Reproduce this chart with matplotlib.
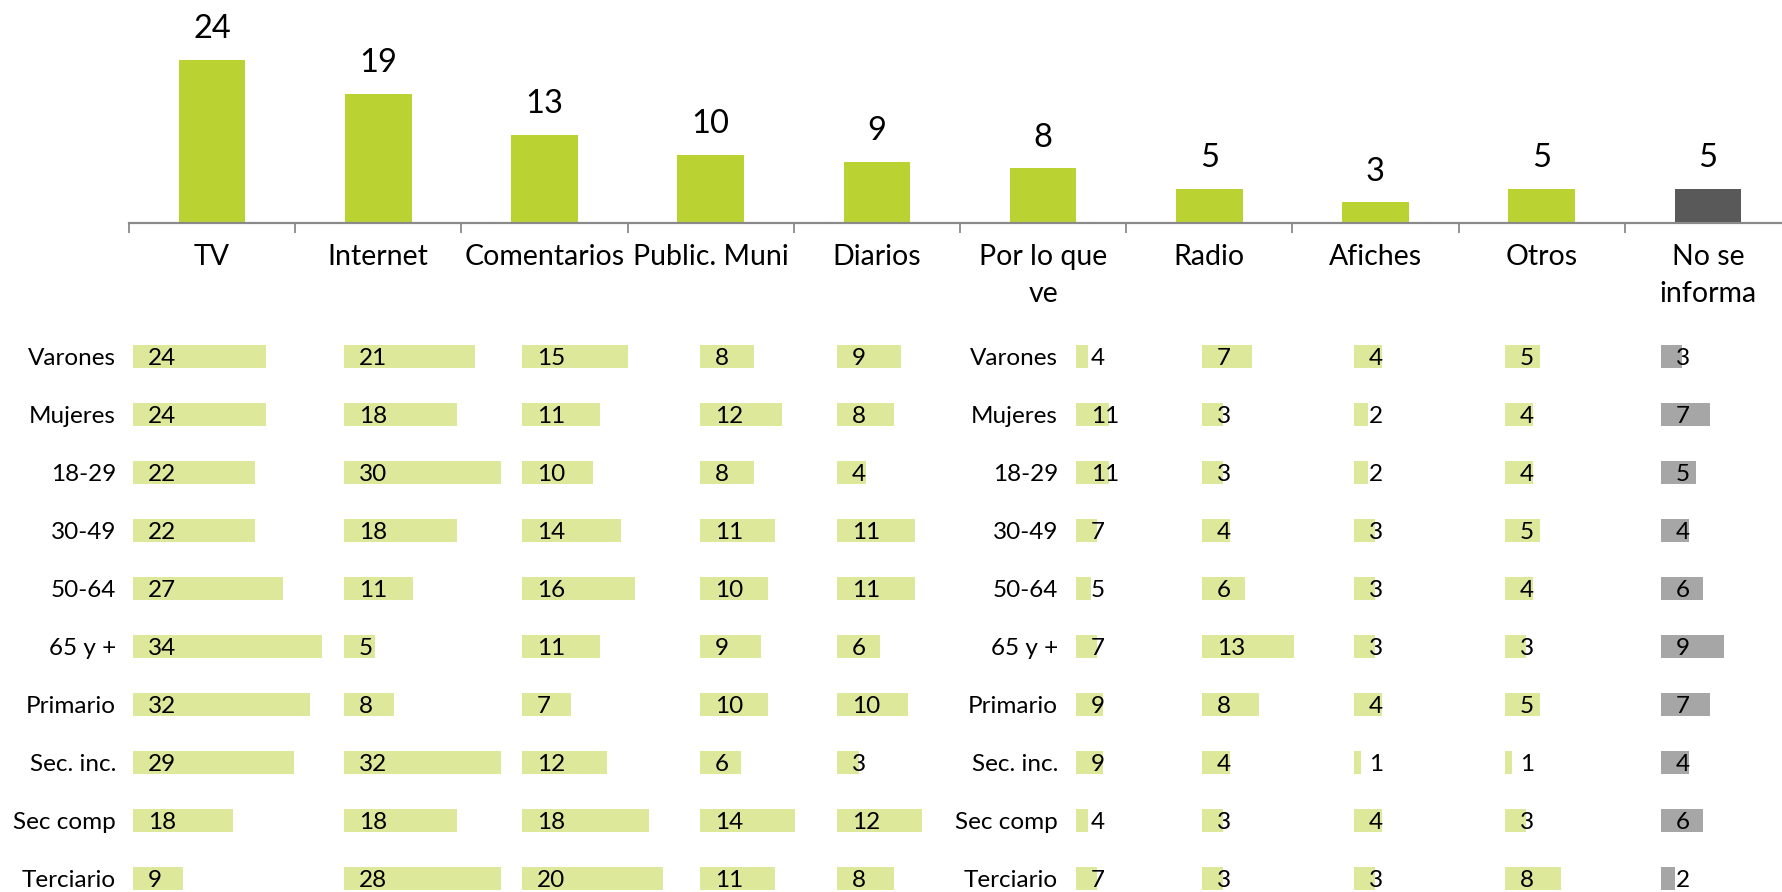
import matplotlib
matplotlib.use("Agg")
import matplotlib.pyplot as plt
from matplotlib.ticker import FixedLocator

plt.rcParams['font.family'] = ['Lato', 'DejaVu Sans']

# ---------------- data ----------------
categories = ["TV", "Internet", "Comentarios", "Public. Muni", "Diarios",
              "Por lo que\nve", "Radio", "Afiches", "Otros", "No se\ninforma"]
totals = [24, 19, 13, 10, 9, 8, 5, 3, 5, 5]

groups = ["Varones", "Mujeres", "18-29", "30-49", "50-64", "65 y +",
          "Primario", "Sec. inc.", "Sec comp", "Terciario"]

tv = [24, 24, 22, 22, 27, 34, 32, 29, 18, 9]
internet = [21, 18, 30, 18, 11, 5, 8, 32, 18, 28]
comentarios = [15, 11, 10, 14, 16, 11, 7, 12, 18, 20]
public_muni = [8, 12, 8, 11, 10, 9, 10, 6, 14, 11]
diarios = [9, 8, 4, 11, 11, 6, 10, 3, 12, 8]
por_lo_que_ve = [4, 11, 11, 7, 5, 7, 9, 9, 4, 7]
radio = [7, 3, 3, 4, 6, 13, 8, 4, 3, 3]
afiches = [4, 2, 2, 3, 3, 3, 4, 1, 4, 3]
otros = [5, 4, 4, 5, 4, 3, 5, 1, 3, 8]
no_se_informa = [3, 7, 5, 4, 6, 9, 7, 4, 6, 2]

columns = [tv, internet, comentarios, public_muni, diarios,
           por_lo_que_ve, radio, afiches, otros, no_se_informa]

# ---------------- styling / layout ----------------
W, H = 1783, 892
GREEN = "#BBD233"
DARK = "#595959"
LIGHT = "#DDE89B"
LGRAY = "#A6A6A6"
AXIS = "#8A8A8A"

fig = plt.figure(figsize=(W / 100, H / 100), dpi=100)
fig.patch.set_facecolor("white")


def frac(x, y_top, w, h):
    """pixel box (x, top, width, height) -> figure fraction rect"""
    return [x / W, (H - y_top - h) / H, w / W, h / H]


# ---- top bar chart ----
ax_left, ax_right = 129, 1791
axis_y = 222.7
px_per_unit = 6.78
ax = fig.add_axes(frac(ax_left, 0, ax_right - ax_left, axis_y))
xs = list(range(len(categories)))
bar_colors = [GREEN] * (len(categories) - 1) + [DARK]
ax.bar(xs, totals, width=0.4, color=bar_colors)
ax.set_xlim(-0.5, len(categories) - 0.5)
ax.set_ylim(0, axis_y / px_per_unit)
for x, v in zip(xs, totals):
    ax.annotate(str(v), xy=(x, v), xytext=(0, 15.5), textcoords="offset points",
                ha="center", va="baseline", fontsize=23.5, color="black")
for s in ["top", "left", "right"]:
    ax.spines[s].set_visible(False)
ax.spines["bottom"].set_color(AXIS)
ax.spines["bottom"].set_linewidth(1.6)
ax.set_yticks([])
ax.set_xticks(xs)
ax.set_xticklabels(categories, fontsize=20.5, linespacing=1.55)
ax.xaxis.set_minor_locator(FixedLocator([i - 0.5 for i in range(len(categories) + 1)]))
ax.tick_params(axis="x", which="major", length=0, pad=15)
ax.tick_params(axis="x", which="minor", length=7.5, width=1.3, color=AXIS)
ax.patch.set_visible(False)

# ---- lower small data-bar table ----
col_start = [133.5, 344, 522, 700, 837.5, 1076, 1202.3, 1354, 1505, 1661]
col_scale = [5.53, 6.25, 7.07, 6.8, 7.07, 3.03, 7.05, 7.0, 7.0, 7.0]
col_width = [220, 157, 200, 200, 200, 120, 200, 200, 200, 120]
label_right = [116, 1058]

row0_y = 356.5
row_pitch = 58.0
top_px = row0_y - 0.5 * row_pitch
ymax = (H - row0_y) / row_pitch
n = len(groups)
rows = list(range(n))

for ci, vals in enumerate(columns):
    w = col_width[ci]
    a = fig.add_axes(frac(col_start[ci], top_px, w, H - top_px))
    color = LGRAY if ci == len(columns) - 1 else LIGHT
    a.barh(rows, vals, height=0.4, color=color)
    a.set_xlim(0, w / col_scale[ci])
    a.set_ylim(ymax, -0.5)
    a.axis("off")
    for r, v in zip(rows, vals):
        a.annotate(str(v), xy=(0, r), xytext=(10.5, 0), textcoords="offset points",
                   ha="left", va="center_baseline", fontsize=17.5, color="black",
                   annotation_clip=False)

for lx in label_right:
    a = fig.add_axes(frac(0, top_px, lx, H - top_px))
    a.set_xlim(0, lx)
    a.set_ylim(ymax, -0.5)
    a.axis("off")
    for r, g in zip(rows, groups):
        a.text(lx, r, g, ha="right", va="center_baseline", fontsize=17.5, color="black")

fig.savefig("out.png", dpi=100, facecolor="white")
